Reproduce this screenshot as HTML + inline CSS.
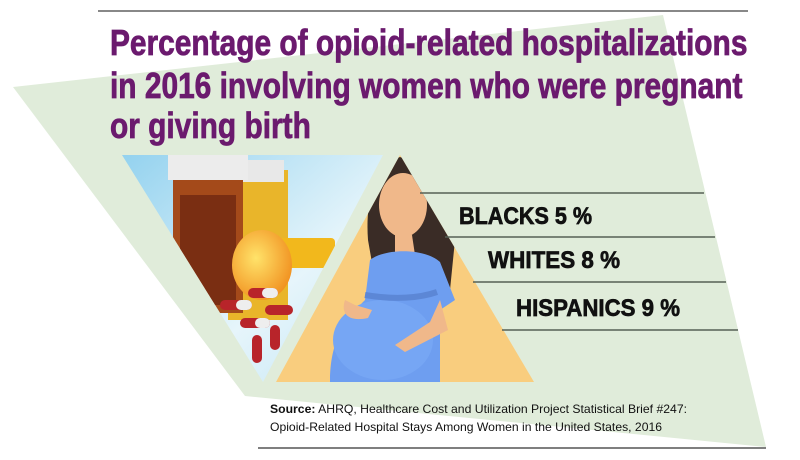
<!DOCTYPE html>
<html><head><meta charset="utf-8"><style>
body{margin:0;width:800px;height:460px;background:#fff;overflow:hidden;position:relative;font-family:"Liberation Sans",sans-serif}
svg{position:absolute;left:0;top:0}
</style></head><body>
<svg width="800" height="460" viewBox="0 0 800 460">
<defs>
<linearGradient id="sky" x1="0" y1="0" x2="1" y2="1"><stop offset="0" stop-color="#8fd0ee"/><stop offset="0.6" stop-color="#e6f5fb"/><stop offset="1" stop-color="#bfe4f4"/></linearGradient>
<radialGradient id="cap" cx="0.4" cy="0.4" r="0.7"><stop offset="0" stop-color="#ffe36a"/><stop offset="1" stop-color="#f08a1a"/></radialGradient>
<clipPath id="tri1"><polygon points="122,155 383,155 263,382"/></clipPath>
<clipPath id="tri2"><polygon points="400,155 534,382 276,382"/></clipPath>
</defs>
<line x1="98" y1="11" x2="748" y2="11" stroke="#888" stroke-width="2"/>
<polygon points="13,87 663,15 766,447 245,396" fill="#e0ecda"/>
<g font-family="Liberation Sans, sans-serif" font-weight="bold" fill="#6b1a6e" stroke="#6b1a6e" stroke-width="0.8" font-size="36">
<text x="110" y="55" transform="translate(110 0) scale(0.83 1) translate(-110 0)" textLength="768">Percentage of opioid-related hospitalizations</text>
<text x="110" y="98" transform="translate(110 0) scale(0.83 1) translate(-110 0)" textLength="762">in 2016 involving women who were pregnant</text>
<text x="110" y="138" transform="translate(110 0) scale(0.83 1) translate(-110 0)">or giving birth</text>
</g>
<g clip-path="url(#tri1)">
<rect x="110" y="150" width="280" height="240" fill="url(#sky)"/>
<rect x="228" y="170" width="60" height="150" fill="#e9b52a"/>
<rect x="232" y="160" width="52" height="22" fill="#e8e8e8"/>
<rect x="173" y="178" width="70" height="135" fill="#a44a1a"/>
<rect x="180" y="195" width="56" height="110" fill="#7a2e12"/>
<rect x="168" y="155" width="80" height="25" fill="#ececec"/>
<rect x="250" y="238" width="85" height="30" rx="4" fill="#f2b81c"/>
<ellipse cx="262" cy="265" rx="30" ry="35" fill="url(#cap)"/>
<g fill="#b8242a"><rect x="220" y="300" width="32" height="10" rx="5"/><rect x="248" y="288" width="30" height="10" rx="5"/><rect x="265" y="305" width="28" height="10" rx="5"/><rect x="240" y="318" width="30" height="10" rx="5"/><rect x="252" y="335" width="10" height="28" rx="5"/><rect x="270" y="325" width="10" height="25" rx="5"/></g>
<g fill="#eee"><rect x="236" y="300" width="16" height="10" rx="5"/><rect x="262" y="288" width="16" height="10" rx="5"/><rect x="255" y="318" width="15" height="10" rx="5"/></g>
</g>
<g clip-path="url(#tri2)">
<rect x="270" y="150" width="270" height="240" fill="#f9cd7e"/>
<path d="M400,157 C375,165 365,200 368,240 L375,280 L420,280 L450,290 L455,240 C440,200 425,165 400,157Z" fill="#3a2c26"/>
<ellipse cx="403" cy="205" rx="24" ry="32" fill="#f0b88a"/>
<path d="M395,235 L412,235 L415,255 L395,255Z" fill="#f0b88a"/>
<path d="M370,260 C385,248 425,248 440,262 L455,300 L440,310 L440,382 L330,382 C330,340 345,320 365,300Z" fill="#6e9ef0"/>
<ellipse cx="383" cy="340" rx="50" ry="40" fill="#76a6f4"/>
<path d="M365,295 C395,300 420,298 437,292" stroke="#5c87d6" stroke-width="6" fill="none"/>
<path d="M440,300 L448,330 L405,352 L395,345 L430,322Z" fill="#f0b88a"/>
<path d="M345,300 C340,315 350,322 368,318 L372,310 L355,305Z" fill="#f0b88a"/>
</g>
<g stroke="#556055" stroke-width="1.5">
<line x1="420" y1="193" x2="704" y2="193"/>
<line x1="445" y1="237" x2="715" y2="237"/>
<line x1="473" y1="282" x2="726" y2="282"/>
<line x1="502" y1="330" x2="738" y2="330"/>
<line x1="258" y1="448" x2="766" y2="448" stroke="#555"/>
</g>
<g font-family="Liberation Sans, sans-serif" font-weight="bold" fill="#111" stroke="#111" stroke-width="0.7" font-size="24">
<text x="459" y="224" textLength="133" lengthAdjust="spacingAndGlyphs">BLACKS 5 %</text>
<text x="488" y="268" textLength="132" lengthAdjust="spacingAndGlyphs">WHITES 8 %</text>
<text x="516" y="316" textLength="164" lengthAdjust="spacingAndGlyphs">HISPANICS 9 %</text>
</g>
<g font-family="Liberation Sans, sans-serif" font-size="12" fill="#111">
<text x="270" y="413" textLength="417" lengthAdjust="spacingAndGlyphs"><tspan font-weight="bold">Source:</tspan> AHRQ, Healthcare Cost and Utilization Project Statistical Brief #247:</text>
<text x="270" y="431" textLength="392" lengthAdjust="spacingAndGlyphs">Opioid-Related Hospital Stays Among Women in the United States, 2016</text>
</g>
</svg>
</body></html>
